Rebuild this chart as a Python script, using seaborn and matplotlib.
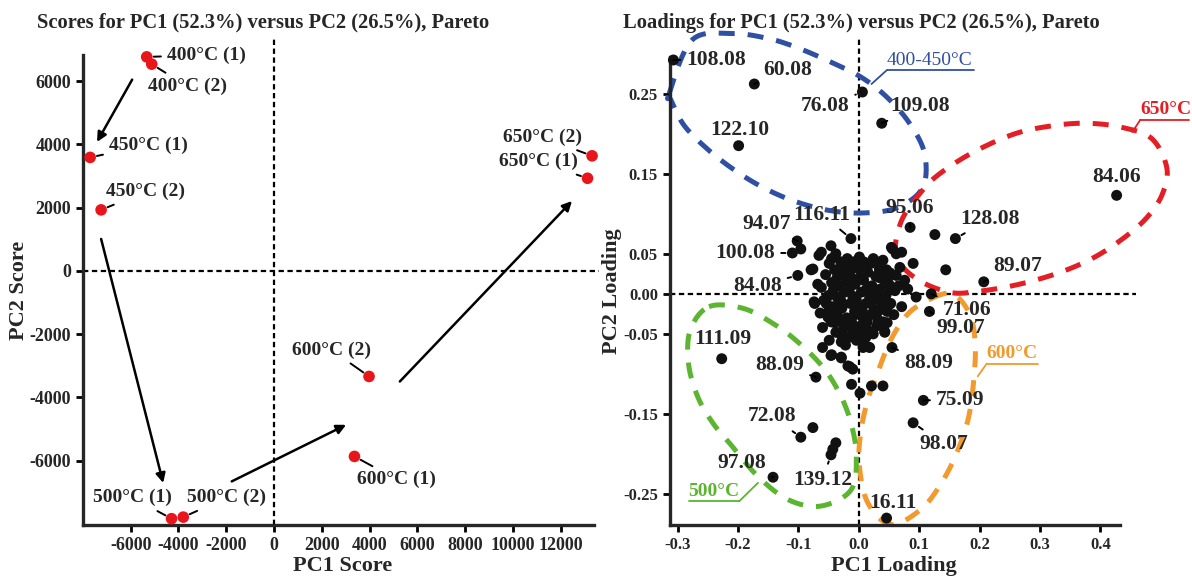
import numpy as np
import matplotlib
matplotlib.use("Agg")
import matplotlib.pyplot as plt
import seaborn as sns

# ---- scores (left panel) ----
score_labels = ["400°C (1)", "400°C (2)", "450°C (1)", "450°C (2)", "500°C (1)",
                "500°C (2)", "600°C (1)", "600°C (2)", "650°C (1)", "650°C (2)"]
score_pc1 = [-5330, -5120, -7700, -7240, -4290, -3800, 3370, 3980, 13130, 13320]
score_pc2 = [6770, 6540, 3590, 1930, -7840, -7790, -5870, -3340, 2930, 3640]
score_text_x = [-2830, -3640, -5260, -5380, -5910, -2000, 5140, 2400, 11070, 11240]
score_text_y = [6825, 5845, 3980, 2505, -7180, -7180, -6600, -2500, 3450, 4225]

# trajectory arrows (start, end) in score units
arrow_start = [(-5940, 6050), (-7240, 1010), (-1770, -6660), (5270, -3500)]
arrow_end = [(-7410, 4080), (-4640, -6710), (3020, -4870), (12480, 2210)]

# ---- loadings (right panel) ----
label_names = ["108.08", "60.08", "76.08", "109.08", "122.10", "84.06", "95.06", "116.11",
               "128.08", "94.07", "100.08", "84.08", "89.07", "71.06", "99.07", "111.09",
               "88.09", "88.09", "75.09", "98.07", "72.08", "139.12", "97.08", "16.11"]
label_pc1 = [-0.307, -0.173, 0.006, 0.038, -0.199, 0.427, 0.085, -0.013,
             0.160, -0.102, -0.110, -0.101, 0.207, 0.120, 0.117, -0.227,
             -0.071, 0.055, 0.107, 0.090, -0.096, -0.046, -0.142, 0.046]
label_pc2 = [0.292, 0.262, 0.252, 0.213, 0.185, 0.123, 0.083, 0.069,
             0.069, 0.066, 0.051, 0.023, 0.015, 0.000, -0.022, -0.081,
             -0.104, -0.067, -0.133, -0.161, -0.179, -0.201, -0.229, -0.280]
label_text_x = [-0.236, -0.118, -0.056, 0.102, -0.197, 0.427, 0.084, -0.061,
                0.218, -0.152, -0.188, -0.168, 0.263, 0.179, 0.169, -0.226,
                -0.131, 0.115, 0.168, 0.141, -0.144, -0.060, -0.194, 0.056]
label_text_y = [0.292, 0.280, 0.234, 0.234, 0.205, 0.146, 0.107, 0.099,
                0.094, 0.087, 0.051, 0.010, 0.035, -0.020, -0.043, -0.057,
                -0.089, -0.086, -0.132, -0.188, -0.153, -0.232, -0.211, -0.261]
label_leader = [True, True, True, True, False, False, True, True,
                True, True, True, True, True, True, True, False,
                True, True, True, True, True, True, True, False]

# unlabelled loadings (dense cluster around the origin)
other_pc1 = [0.126, -0.096, 0.144, -0.046, -0.062, -0.038, 0.001, 0.054, 0.062, 0.023, 0.040,
             -0.049, -0.076, -0.027, -0.010, 0.012, 0.034, 0.068, 0.090, 0.062, 0.076, 0.081,
             0.095, -0.074, -0.054, -0.046, -0.051, -0.060, -0.032, -0.038, -0.049, -0.060,
             -0.029, -0.015, -0.004, 0.012, 0.007, 0.018, 0.043, 0.032, 0.034, 0.051, -0.046,
             -0.029, -0.018, -0.010, -0.015, -0.012, 0.002, 0.021, 0.040, -0.076, -0.038, -0.043,
             -0.066, -0.045, -0.019, 0.024, 0.056, 0.071, -0.079, -0.073, -0.054, -0.051, -0.045,
             -0.029, -0.016, 0.043, 0.053, 0.071, 0.015, 0.003,
             -0.040, -0.028, -0.015, 0.000, 0.015, 0.028, 0.041, -0.045, -0.032, -0.020, -0.006,
             0.008, 0.022, 0.036, 0.050, -0.050, -0.036, -0.024, -0.010, 0.004, 0.018, 0.030,
             0.045, 0.060, -0.042, -0.028, -0.014, 0.000, 0.012, 0.025, 0.040, -0.035, -0.020,
             -0.006, 0.008, 0.020, 0.030, -0.025, -0.010, 0.003, 0.016, -0.040, -0.055, 0.052,
             0.058, 0.066, -0.062, -0.064, 0.047, -0.008, 0.020,
             -0.030, -0.018, 0.008, 0.030, -0.036, -0.012, 0.002, 0.035, 0.048, -0.042, -0.016,
             0.012, 0.026, 0.054, -0.030, -0.004, 0.024, 0.036, -0.058, -0.050, -0.036, -0.007,
             0.006, 0.032, 0.047, -0.046, -0.012, 0.014, 0.040, -0.030, -0.002, 0.024, -0.022,
             0.010, -0.068, 0.046]
other_pc2 = [0.074, 0.056, 0.030, 0.060, 0.052, 0.050, 0.046, 0.058, 0.050, 0.042, 0.042,
             0.038, 0.031, 0.035, 0.038, 0.038, 0.031, 0.033, 0.038, 0.023, 0.017, 0.006,
             -0.004, -0.010, -0.010, -0.021, -0.029, -0.042, -0.033, -0.048, -0.058, -0.067,
             -0.060, -0.054, -0.058, -0.054, -0.067, -0.067, -0.048, -0.033, -0.019, -0.013, -0.077,
             -0.079, -0.090, -0.094, -0.091, -0.113, -0.124, -0.115, -0.115, -0.167, -0.186, -0.194,
             0.048, 0.044, 0.044, 0.044, 0.056, 0.052, 0.030, -0.012, -0.012, -0.028, -0.076,
             -0.080, -0.053, -0.047, -0.012, -0.016, -0.066, -0.057,
             0.030, 0.024, 0.028, 0.031, 0.027, 0.022, 0.018, 0.014, 0.010, 0.016, 0.012,
             0.017, 0.010, 0.006, 0.012, -0.002, -0.004, 0.002, -0.003, 0.002, -0.004, 0.000,
             -0.002, 0.004, -0.016, -0.018, -0.012, -0.016, -0.012, -0.020, -0.010, -0.028, -0.030,
             -0.026, -0.030, -0.026, -0.040, -0.042, -0.044, -0.040, -0.046, -0.036, 0.024, 0.026,
             -0.026, 0.010, 0.008, -0.024, -0.036, 0.040, 0.038,
             0.040, 0.040, 0.040, 0.040, 0.020, 0.020, 0.020, 0.020, 0.020, 0.005, 0.005,
             0.005, 0.005, 0.005, -0.008, -0.008, -0.008, -0.008, -0.008, -0.022, -0.022, -0.022,
             -0.022, -0.022, -0.022, -0.035, -0.035, -0.035, -0.035, -0.050, -0.050, -0.050, -0.064,
             -0.044, 0.012, 0.030]

# hand-traced group outlines (loading units)
blue_outline = [(-0.314, 0.250), (-0.276, 0.317), (-0.210, 0.325), (-0.151, 0.319), (-0.104, 0.308),
                (-0.048, 0.290), (0.003, 0.271), (0.046, 0.246), (0.084, 0.213), (0.109, 0.175),
                (0.106, 0.133), (0.065, 0.108), (0.009, 0.101), (-0.048, 0.104), (-0.104, 0.115),
                (-0.154, 0.131), (-0.201, 0.152), (-0.248, 0.179), (-0.289, 0.210), (-0.311, 0.242)]
red_outline = [(0.062, 0.048), (0.070, 0.090), (0.103, 0.127), (0.134, 0.150), (0.190, 0.177),
               (0.259, 0.200), (0.322, 0.210), (0.378, 0.213), (0.435, 0.208), (0.485, 0.194),
               (0.510, 0.158), (0.503, 0.125), (0.478, 0.096), (0.441, 0.071), (0.391, 0.046),
               (0.334, 0.027), (0.266, 0.012), (0.197, 0.003), (0.150, 0.002), (0.095, 0.019)]
orange_outline = [(0.140, 0.000), (0.087, -0.021), (0.054, -0.056), (0.032, -0.097), (0.015, -0.132),
                  (0.003, -0.174), (0.001, -0.215), (0.015, -0.261), (0.053, -0.288), (0.103, -0.269),
                  (0.137, -0.236), (0.162, -0.199), (0.181, -0.157), (0.190, -0.111), (0.193, -0.066),
                  (0.186, -0.030), (0.165, -0.005)]
green_outline = [(-0.248, -0.016), (-0.192, -0.018), (-0.142, -0.037), (-0.101, -0.060), (-0.060, -0.091),
                 (-0.032, -0.124), (-0.013, -0.161), (-0.004, -0.203), (-0.013, -0.245), (-0.063, -0.265),
                 (-0.117, -0.257), (-0.167, -0.228), (-0.210, -0.190), (-0.242, -0.161), (-0.267, -0.128),
                 (-0.282, -0.087), (-0.279, -0.045)]

group_names = ["400-450°C", "650°C", "600°C", "500°C"]
group_colors = ["#2f4fa3", "#e41e25", "#f29a2e", "#5cb531"]
group_outlines = [blue_outline, red_outline, orange_outline, green_outline]
group_text = [(0.046, 0.190, 0.279), (0.466, 0.547, 0.217), (0.212, 0.297, -0.087), (-0.282, -0.198, -0.259)]
group_pointer = [((0.046, 0.279), (0.021, 0.262)), ((0.466, 0.217), (0.453, 0.202)),
                 ((0.212, -0.087), (0.197, -0.103)), ((-0.198, -0.259), (-0.167, -0.236))]
group_weight = ["normal", "bold", "bold", "bold"]


def closed_curve(pts, n=24):
    p = np.asarray(pts, float)
    m = len(p)
    t = np.linspace(0, 1, n, endpoint=False)[:, None]
    segs = []
    for i in range(m):
        p0, p1, p2, p3 = p[i - 1], p[i], p[(i + 1) % m], p[(i + 2) % m]
        segs.append(0.5 * (2 * p1 + (p2 - p0) * t + (2 * p0 - 5 * p1 + 4 * p2 - p3) * t ** 2
                           + (3 * p1 - p0 - 3 * p2 + p3) * t ** 3))
    out = np.vstack(segs + [p[:1]])
    return out[:, 0], out[:, 1]


sns.set_theme(style="ticks")
plt.rcParams["font.family"] = ["Liberation Serif", "DejaVu Serif"]
plt.rcParams["font.weight"] = "bold"
plt.rcParams["axes.labelweight"] = "bold"
plt.rcParams["axes.unicode_minus"] = False

fig = plt.figure(figsize=(11.92, 5.77), dpi=100)
ax1 = fig.add_axes([0.0696, 0.0901, 0.4287, 0.8146])
ax2 = fig.add_axes([0.5619, 0.0896, 0.3779, 0.8120])

zero_style = dict(color="black", lw=1.6, ls=(0, (2.4, 1.6)), clip_on=False, zorder=1)
leader = dict(arrowstyle="-", color="black", lw=1.4, shrinkB=5)

# left: scores
ax1.axvline(0, ymin=0, ymax=1.038, **zero_style)
ax1.axhline(0, xmin=0, xmax=1.01, **zero_style)
for (x0, y0), (x1, y1) in zip(arrow_start, arrow_end):
    ax1.annotate("", xy=(x1, y1), xytext=(x0, y0),
                 arrowprops=dict(arrowstyle="-|>", color="black", lw=1.8, mutation_scale=14,
                                 shrinkA=0, shrinkB=0))
sns.scatterplot(x=score_pc1, y=score_pc2, ax=ax1, color="#e8161b", s=70,
                edgecolor="none", zorder=3, clip_on=False)
for name, px, py, tx, ty in zip(score_labels, score_pc1, score_pc2, score_text_x, score_text_y):
    ax1.annotate(name, xy=(px, py), xytext=(tx, ty), ha="center", va="center",
                 fontsize=14, fontweight="bold", arrowprops=leader, annotation_clip=False)
ax1.set_xlim(-8000, 13400)
ax1.set_ylim(-8040, 6830)
ax1.set_xticks(range(-6000, 12001, 2000))
ax1.set_yticks(range(-6000, 6001, 2000))
ax1.set_xlabel("PC1 Score", fontsize=16, fontweight="bold")
ax1.set_ylabel("PC2 Score", fontsize=16, fontweight="bold")
ax1.xaxis.set_label_coords(0.509, -0.066)
ax1.yaxis.set_label_coords(-0.106, 0.5)
ax1.tick_params(labelsize=13)

# right: loadings
ax2.axvline(0, ymin=0, ymax=1.043, **zero_style)
ax2.axhline(0, xmin=0, xmax=1.035, **zero_style)
for outline, col in zip(group_outlines, group_colors):
    cx, cy = closed_curve(outline)
    ax2.plot(cx, cy, color=col, lw=3.6, ls=(0, (3.2, 2.6)), clip_on=False, zorder=2)
sns.scatterplot(x=other_pc1 + label_pc1, y=other_pc2 + label_pc2, ax=ax2, color="#111111",
                s=62, edgecolor="none", zorder=3, clip_on=False)
for name, px, py, tx, ty, lead in zip(label_names, label_pc1, label_pc2, label_text_x,
                                      label_text_y, label_leader):
    ax2.annotate(name, xy=(px, py), xytext=(tx, ty), ha="center", va="center",
                 fontsize=15.5, fontweight="bold", arrowprops=leader if lead else None,
                 annotation_clip=False, zorder=4)
for name, col, (x0, x1, yl), (p0, p1), w in zip(group_names, group_colors, group_text,
                                                group_pointer, group_weight):
    ax2.text(x0, yl + 0.002, name, color=col, fontsize=14, fontweight=w, ha="left", va="bottom")
    ax2.plot([x0, x1], [yl, yl], color=col, lw=1.3, clip_on=False)
    ax2.plot([p0[0], p1[0]], [p0[1], p1[1]], color=col, lw=1.3, clip_on=False)
ax2.set_xlim(-0.313, 0.433)
ax2.set_ylim(-0.289, 0.296)
ax2.set_xticks([-0.3, -0.2, -0.1, 0.0, 0.1, 0.2, 0.3, 0.4])
ax2.set_xticklabels(["-0.3", "-0.2", "-0.1", "0.0", "0.1", "0.2", "0.3", "0.4"])
ax2.set_yticks([-0.25, -0.15, -0.05, 0.0, 0.05, 0.15, 0.25])
ax2.set_yticklabels(["-0.25", "-0.15", "-0.05", "0.00", "0.05", "0.15", "0.25"])
ax2.set_xlabel("PC1 Loading", fontsize=16, fontweight="bold")
ax2.set_ylabel("PC2 Loading", fontsize=16, fontweight="bold")
ax2.xaxis.set_label_coords(0.497, -0.066)
ax2.yaxis.set_label_coords(-0.106, 0.5)
ax2.tick_params(labelsize=12)

for ax in (ax1, ax2):
    sns.despine(ax=ax)
    ax.spines["left"].set_linewidth(2.4)
    ax.spines["bottom"].set_linewidth(2.4)
    ax.tick_params(width=2, length=5, color="black")
    ax.set_facecolor("white")

fig.text(0.031, 0.961, "Scores for PC1 (52.3%) versus PC2 (26.5%), Pareto",
         fontsize=14.8, fontweight="bold", ha="left", va="center")
fig.text(0.523, 0.961, "Loadings for PC1 (52.3%) versus PC2 (26.5%), Pareto",
         fontsize=14.8, fontweight="bold", ha="left", va="center")

fig.savefig("out.png", dpi=100, facecolor="white")
